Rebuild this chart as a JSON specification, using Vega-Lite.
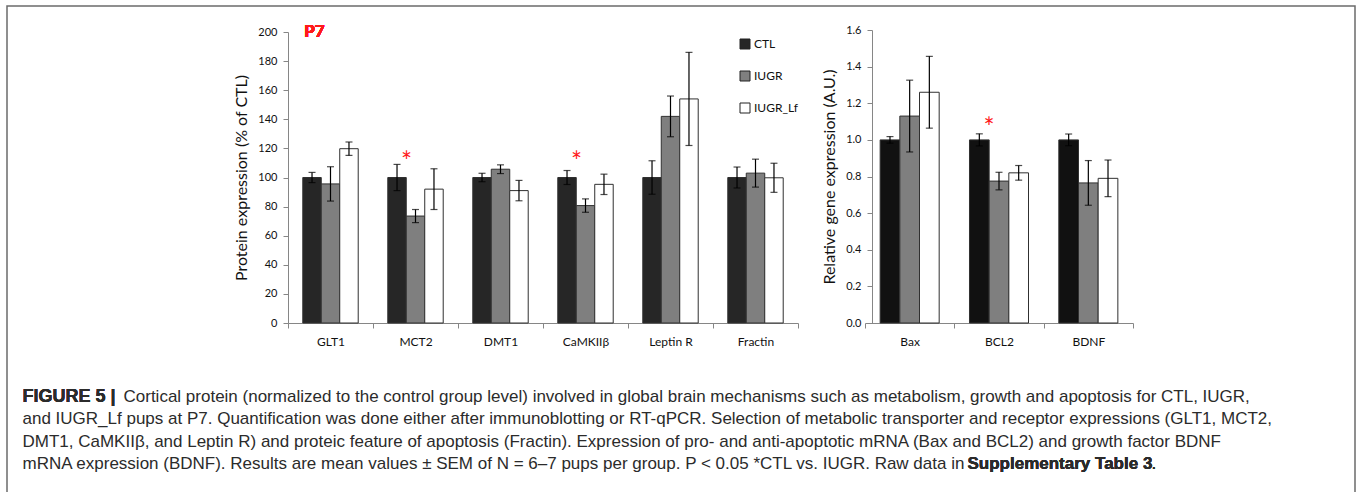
{
  "$schema": "https://vega.github.io/schema/vega-lite/v6.json",
  "width": 1348,
  "height": 500,
  "autosize": {"type": "none"},
  "padding": {"left": 7, "top": 6, "right": 3, "bottom": 0},
  "background": "white",
  "config": {
    "view": {"stroke": "#6b6b6b", "strokeWidth": 1.5},
    "font": "Lato",
    "axis": {
      "domainColor": "#868686",
      "tickColor": "#868686",
      "domainWidth": 1,
      "tickWidth": 1,
      "tickSize": 5,
      "grid": false,
      "labelFont": "Lato",
      "labelFontSize": 11,
      "labelColor": "#111111",
      "titleFont": "Lato",
      "titleFontSize": 16,
      "titleFontWeight": "normal",
      "titleColor": "#111111"
    }
  },
  "datasets": {
    "protein": [
      {"category": "GLT1", "group": "CTL", "mean": 100, "sem": 3.5},
      {"category": "GLT1", "group": "IUGR", "mean": 95.6, "sem": 11.8},
      {"category": "GLT1", "group": "IUGR_Lf", "mean": 119.8, "sem": 4.6},
      {"category": "MCT2", "group": "CTL", "mean": 100, "sem": 9},
      {"category": "MCT2", "group": "IUGR", "mean": 73.5, "sem": 4.5},
      {"category": "MCT2", "group": "IUGR_Lf", "mean": 92, "sem": 14},
      {"category": "DMT1", "group": "CTL", "mean": 100, "sem": 2.9},
      {"category": "DMT1", "group": "IUGR", "mean": 105.7, "sem": 3},
      {"category": "DMT1", "group": "IUGR_Lf", "mean": 91, "sem": 7},
      {"category": "CaMKIIβ", "group": "CTL", "mean": 100, "sem": 4.8},
      {"category": "CaMKIIβ", "group": "IUGR", "mean": 80.7, "sem": 4.6},
      {"category": "CaMKIIβ", "group": "IUGR_Lf", "mean": 95.3, "sem": 7},
      {"category": "Leptin R", "group": "CTL", "mean": 100, "sem": 11.5},
      {"category": "Leptin R", "group": "IUGR", "mean": 142, "sem": 14},
      {"category": "Leptin R", "group": "IUGR_Lf", "mean": 154, "sem": 32},
      {"category": "Fractin", "group": "CTL", "mean": 100, "sem": 7.2},
      {"category": "Fractin", "group": "IUGR", "mean": 103, "sem": 9.6},
      {"category": "Fractin", "group": "IUGR_Lf", "mean": 99.8, "sem": 10}
    ],
    "gene": [
      {"category": "Bax", "group": "CTL", "mean": 1.0, "sem": 0.018},
      {"category": "Bax", "group": "IUGR", "mean": 1.13, "sem": 0.196},
      {"category": "Bax", "group": "IUGR_Lf", "mean": 1.26, "sem": 0.196},
      {"category": "BCL2", "group": "CTL", "mean": 1.0, "sem": 0.033},
      {"category": "BCL2", "group": "IUGR", "mean": 0.775, "sem": 0.048},
      {"category": "BCL2", "group": "IUGR_Lf", "mean": 0.82, "sem": 0.04},
      {"category": "BDNF", "group": "CTL", "mean": 1.0, "sem": 0.032},
      {"category": "BDNF", "group": "IUGR", "mean": 0.765, "sem": 0.122},
      {"category": "BDNF", "group": "IUGR_Lf", "mean": 0.79, "sem": 0.1}
    ],
    "proteinStars": [
      {"category": "MCT2", "y": 110},
      {"category": "CaMKIIβ", "y": 110}
    ],
    "geneStars": [
      {"category": "BCL2", "y": 1.057}
    ],
    "caption": [
      {"line": 1, "text": "Cortical protein (normalized to the control group level) involved in global brain mechanisms such as metabolism, growth and apoptosis for CTL, IUGR,"},
      {"line": 2, "text": "and IUGR_Lf pups at P7. Quantification was done either after immunoblotting or RT-qPCR. Selection of metabolic transporter and receptor expressions (GLT1, MCT2,"},
      {"line": 3, "text": "DMT1, CaMKIIβ, and Leptin R) and proteic feature of apoptosis (Fractin). Expression of pro- and anti-apoptotic mRNA (Bax and BCL2) and growth factor BDNF"},
      {"line": 4, "text": "mRNA expression (BDNF). Results are mean values ± SEM of N = 6–7 pups per group. P < 0.05 *CTL vs. IUGR. Raw data in"}
    ]
  },
  "layer": [
    {
      "data": {"name": "protein"},
      "layer": [
        {
          "mark": {"type": "bar", "stroke": "#303030", "strokeWidth": 1},
          "encoding": {
            "x": {
              "field": "category", "type": "nominal",
              "sort": ["GLT1", "MCT2", "DMT1", "CaMKIIβ", "Leptin R", "Fractin"],
              "scale": {"type": "band", "range": [281, 791], "paddingInner": 0, "paddingOuter": 0},
              "axis": {"orient": "bottom", "offset": -183, "title": null, "labelAngle": 0, "labelPadding": 8, "labelFontSize": 12, "tickBand": "extent"}
            },
            "xOffset": {"field": "group", "type": "nominal", "scale": {"paddingInner": 0, "paddingOuter": 0.8}},
            "y": {
              "field": "mean", "type": "quantitative",
              "scale": {"domain": [0, 200], "range": [317, 26], "nice": false},
              "axis": {"orient": "left", "offset": -281, "values": [0, 20, 40, 60, 80, 100, 120, 140, 160, 180, 200], "labelPadding": 6, "titlePadding": 8, "title": "Protein expression (% of CTL)"}
            },
            "fill": {
              "field": "group", "type": "nominal",
              "scale": {"domain": ["CTL", "IUGR", "IUGR_Lf"], "range": ["#262626", "#7f7f7f", "#ffffff"]},
              "legend": {
                "orient": "none", "legendX": 732, "legendY": 32, "title": null,
                "symbolType": "square", "symbolSize": 100, "symbolStrokeColor": "#222222", "symbolStrokeWidth": 1,
                "labelFont": "Lato", "labelFontSize": 12, "labelColor": "#111111", "rowPadding": 18, "labelOffset": 3
              }
            }
          }
        },
        {
          "mark": {"type": "errorbar", "ticks": true, "size": 7, "thickness": 1.2, "color": "#000000"},
          "encoding": {
            "x": {"field": "category", "type": "nominal", "sort": ["GLT1", "MCT2", "DMT1", "CaMKIIβ", "Leptin R", "Fractin"]},
            "xOffset": {"field": "group", "type": "nominal"},
            "y": {"field": "mean", "type": "quantitative", "title": "Protein expression (% of CTL)"},
            "yError": {"field": "sem"}
          }
        },
        {
          "data": {"name": "proteinStars"},
          "mark": {"type": "text", "text": "*", "font": "Lato", "fontSize": 26, "color": "#ff1a1a", "baseline": "middle", "dx": -9},
          "encoding": {
            "x": {"field": "category", "type": "nominal", "sort": ["GLT1", "MCT2", "DMT1", "CaMKIIβ", "Leptin R", "Fractin"]},
            "y": {"field": "y", "type": "quantitative"}
          }
        },
        {
          "mark": {"type": "text", "text": "P7", "font": "Lato", "fontSize": 17, "fontWeight": "bold", "color": "#ff1a1a", "baseline": "middle", "align": "center", "dx": -16},
          "encoding": {
            "x": {"datum": "GLT1", "type": "nominal"},
            "y": {"datum": 200, "type": "quantitative"}
          }
        }
      ]
    },
    {
      "data": {"name": "gene"},
      "layer": [
        {
          "mark": {"type": "bar", "stroke": "#303030", "strokeWidth": 1},
          "encoding": {
            "x": {
              "field": "category", "type": "nominal",
              "sort": ["Bax", "BCL2", "BDNF"],
              "scale": {"type": "band", "range": [858, 1126], "paddingInner": 0, "paddingOuter": 0},
              "axis": {"orient": "bottom", "offset": -183, "title": null, "labelAngle": 0, "labelPadding": 8, "labelFontSize": 12, "tickBand": "extent"}
            },
            "xOffset": {"field": "group", "type": "nominal", "scale": {"paddingInner": 0, "paddingOuter": 0.77}},
            "y": {
              "field": "mean", "type": "quantitative",
              "scale": {"domain": [0, 1.6], "range": [317, 24], "nice": false},
              "axis": {"orient": "left", "offset": -865, "values": [0, 0.2, 0.4, 0.6, 0.8, 1.0, 1.2, 1.4, 1.6], "format": ".1f", "labelPadding": 6, "titlePadding": 8, "title": "Relative gene expression (A.U.)"}
            },
            "fill": {
              "field": "group", "type": "nominal",
              "scale": {"domain": ["CTL", "IUGR", "IUGR_Lf"], "range": ["#111111", "#7f7f7f", "#ffffff"]},
              "legend": null
            }
          }
        },
        {
          "mark": {"type": "errorbar", "ticks": true, "size": 7, "thickness": 1.2, "color": "#000000"},
          "encoding": {
            "x": {"field": "category", "type": "nominal", "sort": ["Bax", "BCL2", "BDNF"]},
            "xOffset": {"field": "group", "type": "nominal"},
            "y": {"field": "mean", "type": "quantitative", "title": "Relative gene expression (A.U.)"},
            "yError": {"field": "sem"}
          }
        },
        {
          "data": {"name": "geneStars"},
          "mark": {"type": "text", "text": "*", "font": "Lato", "fontSize": 26, "color": "#ff1a1a", "baseline": "middle", "dx": -10},
          "encoding": {
            "x": {"field": "category", "type": "nominal", "sort": ["Bax", "BCL2", "BDNF"]},
            "y": {"field": "y", "type": "quantitative"}
          }
        }
      ]
    },
    {
      "data": {"name": "caption"},
      "layer": [
        {
          "transform": [{"filter": "datum.line > 1"}],
          "mark": {"type": "text", "align": "left", "baseline": "alphabetic", "font": "Liberation Sans", "fontSize": 17, "color": "#2b2b2b"},
          "encoding": {
            "x": {"datum": 0, "type": "quantitative", "scale": {"domain": [0, 1], "range": [15.5, 1340]}, "axis": null},
            "y": {"field": "line", "type": "quantitative", "scale": {"domain": [1, 4], "range": [395.5, 463], "nice": false, "zero": false}, "axis": null},
            "text": {"field": "text"}
          }
        },
        {
          "transform": [{"filter": "datum.line == 1"}],
          "mark": {"type": "text", "align": "left", "baseline": "alphabetic", "font": "Liberation Sans", "fontSize": 17, "color": "#2b2b2b", "dx": 101},
          "encoding": {
            "x": {"datum": 0, "type": "quantitative"},
            "y": {"field": "line", "type": "quantitative"},
            "text": {"field": "text"}
          }
        },
        {
          "mark": {"type": "text", "text": "FIGURE 5 |", "align": "left", "baseline": "alphabetic", "font": "Liberation Sans", "fontSize": 18, "fontWeight": "bold", "color": "#2b2b2b"},
          "encoding": {
            "x": {"datum": 0, "type": "quantitative"},
            "y": {"datum": 1, "type": "quantitative"}
          }
        },
        {
          "mark": {"type": "text", "text": "Supplementary Table 3", "align": "left", "baseline": "alphabetic", "font": "Liberation Sans", "fontSize": 17, "fontWeight": "bold", "color": "#2b2b2b", "dx": 945},
          "encoding": {
            "x": {"datum": 0, "type": "quantitative"},
            "y": {"datum": 4, "type": "quantitative"}
          }
        },
        {
          "mark": {"type": "text", "text": ".", "align": "left", "baseline": "alphabetic", "font": "Liberation Sans", "fontSize": 17, "color": "#2b2b2b", "dx": 1129},
          "encoding": {
            "x": {"datum": 0, "type": "quantitative"},
            "y": {"datum": 4, "type": "quantitative"}
          }
        }
      ]
    }
  ],
  "resolve": {
    "scale": {"x": "independent", "y": "independent", "xOffset": "independent", "fill": "independent"},
    "axis": {"x": "independent", "y": "independent"},
    "legend": {"fill": "independent"}
  }
}
